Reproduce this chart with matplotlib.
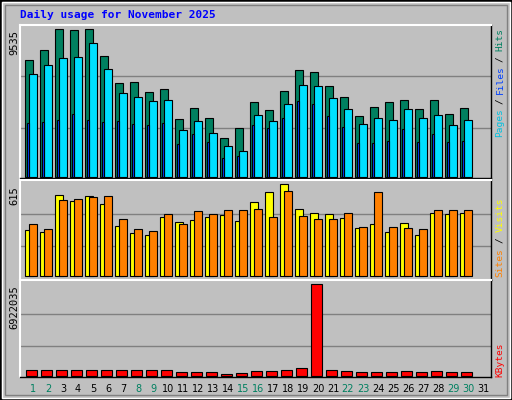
import matplotlib
matplotlib.use("Agg")
import matplotlib.pyplot as plt
from matplotlib.patches import Rectangle
import numpy as np

days = list(range(1, 32))
hits = [7528, 8175, 9535, 9470, 9535, 7787, 6040, 6105, 5457, 5652, 3710, 4422, 3775, 2481, 3128,
        4810, 4293, 5522, 6881, 6752, 5846, 5134, 3904, 4487, 4810, 4940, 4357, 4940, 4034, 4422]
files = [6622, 7205, 7658, 7722, 8628, 6946, 5393, 5134, 4875, 4940, 2998, 3581, 2804, 1963, 1639,
         3969, 3581, 4681, 5910, 5846, 5069, 4357, 3387, 3775, 3645, 4357, 3775, 3969, 3322, 3645]
pages = [3451, 3516, 3645, 4034, 3645, 3516, 3581, 3387, 3322, 3451, 2092, 2739, 2222, 1186, 1316,
         3322, 3128, 3775, 4875, 4681, 3904, 3192, 2157, 2157, 2286, 3063, 2222, 2739, 2222, 2286]
sites = [307, 294, 541, 501, 535, 481, 334, 287, 274, 394, 361, 374, 394, 408, 368,
         495, 561, 615, 448, 421, 414, 388, 321, 348, 294, 354, 274, 421, 414, 421]
visits = [348, 314, 508, 515, 528, 535, 381, 314, 301, 414, 348, 434, 414, 441, 441,
          448, 394, 568, 401, 381, 381, 421, 328, 561, 328, 321, 314, 441, 441, 441]
kbytes = [404000, 404000, 404000, 404000, 404000, 404000, 404000, 404000, 404000, 404000,
          253000, 253000, 253000, 100000, 177000, 328000, 328000, 404000, 556000, 6922035,
          404000, 328000, 253000, 253000, 253000, 328000, 253000, 328000, 253000, 253000]
weekend = [1, 2, 8, 9, 15, 16, 22, 23, 29, 30]

W, H = 512, 400
fig = plt.figure(figsize=(5.12, 4.0), dpi=100)
fig.patch.set_facecolor("#C0C0C0")
mono = "DejaVu Sans Mono"

def P(x, y):
    return x / W, 1 - y / H

fig.add_artist(Rectangle((0, 0), 1, 1, transform=fig.transFigure, fill=False, ec="black", lw=2))
fig.add_artist(Rectangle((2/W, 2/H), 1-4/W, 1-4/H, transform=fig.transFigure, fill=False, ec="white", lw=1))
fig.add_artist(Rectangle((5/W, 5/H), 1-10/W, 1-10/H, transform=fig.transFigure, fill=False, ec="#808080", lw=1))

def make_ax(ytop, ybase, ybot, vmax, vtop):
    x0, x1 = 20, 491
    ax = fig.add_axes([x0 / W, 1 - ybot / H, (x1 - x0) / W, (ybot - ytop) / H])
    ax.set_facecolor("#C0C0C0")
    scale = vmax / (ybase - vtop)
    ax.set_ylim(-(ybot - ybase) * scale, (ybase - ytop) * scale)
    ax.set_xlim(-5 / 15, 466 / 15)
    ax.set_xticks([]); ax.set_yticks([])
    for s in ax.spines.values():
        s.set_color("black"); s.set_linewidth(1)
    ax.spines["top"].set_color("white"); ax.spines["left"].set_color("white")
    ax.spines["top"].set_linewidth(1.5); ax.spines["left"].set_linewidth(1.5)
    for f in (0.33, 0.68):
        ax.axhline(vmax * f, color="#808080", lw=1, zorder=0)
    return ax

x = np.arange(len(hits))
kw = dict(edgecolor="black", linewidth=0.8, align="edge")

ax1 = make_ax(25, 176.5, 178, 9535, 29)
ax1.bar(x, hits, width=0.5, color="#008060", **kw)
ax1.bar(x + 0.27, files, width=0.5, color="#00E0FF", **kw)
ax1.bar(x + 0.12, pages, width=0.15, color="#0040FF", **kw)

ax2 = make_ax(180, 276.3, 280, 615, 184.3)
ax2.bar(x, sites, width=0.5, color="#FFFF00", **kw)
ax2.bar(x + 0.27, visits, width=0.5, color="#FF8000", **kw)

ax3 = make_ax(280, 375.7, 377, 6922035, 284.3)
ax3.bar(x + 0.07, kbytes, width=0.71, color="#FF0000", **kw)

fig.text(*P(20, 15), "Daily usage for November 2025", color="#0000FF", fontfamily=mono,
         fontweight="bold", fontsize=8, va="center", ha="left")

for lab, y in (("9535", 30), ("615", 186), ("6922035", 285)):
    fig.text(*P(14, y), lab, rotation=90, fontfamily=mono, fontsize=7.5, ha="center", va="top")

for d in days:
    xc = 20 + 5 + 15 * (d - 1) + 8
    fig.text(*P(xc, 389), str(d), color="#008060" if d in weekend else "black",
             fontfamily="DejaVu Sans", fontsize=7, ha="center", va="center")

def vlabel(x, ybottom, pitch, parts):
    # parts: (text, color, char offset)
    for txt, col, k in parts:
        fig.text(*P(x, ybottom - k * pitch), txt, rotation=90, color=col, fontfamily=mono,
                 fontsize=6.8, ha="center", va="bottom")

vlabel(500, 137, 5.35, [("Pages", "#00C0E0", 0), ("/", "black", 6.1), ("Files", "#0040FF", 8),
                        ("/", "black", 14.1), ("Hits", "#008060", 16)])
vlabel(500, 277, 5.6, [("Sites", "#FF8000", 0), ("/", "black", 6.1), ("Visits", "#FFFF00", 8)])
vlabel(500, 377, 6.0, [("KBytes", "#FF0000", 0)])

fig.savefig("out.png", dpi=100, facecolor=fig.get_facecolor())
